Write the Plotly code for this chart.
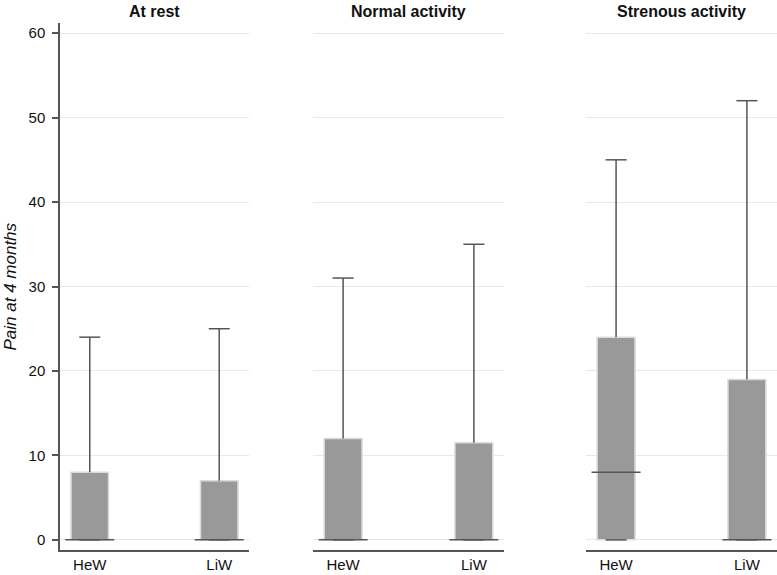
import plotly.graph_objects as go

panels = ["At rest", "Normal activity", "Strenous activity"]
groups = ["HeW", "LiW"]
q1 = [[0, 0], [0, 0], [0, 0]]
median = [[0, 0], [0, 0], [8, 0]]
q3 = [[8, 7], [12, 11.5], [24, 19]]
lower = [[0, 0], [0, 0], [0, 0]]
upper = [[24, 25], [31, 35], [45, 52]]
y_ticks = [0, 10, 20, 30, 40, 50, 60]

FILL = "#999999"
EDGE = "#dcdcdc"
DARK = "#555555"
GRID = "#e8e8e8"
TXT = "#111111"
FONT = "Liberation Sans, Arial, sans-serif"

domains = [[0, 0.2636], [0.3529, 0.6192], [0.7336, 1.0]]

fig = go.Figure()
for i, name in enumerate(panels):
    sfx = "" if i == 0 else str(i + 1)
    xa, ya = "x" + sfx, "y" + sfx
    # upper whisker line from q3 to upper (no caps)
    fig.add_trace(go.Scatter(
        x=groups, y=q3[i], mode="markers", marker=dict(size=0.1, color=DARK, opacity=0),
        error_y=dict(type="data", symmetric=False,
                     array=[u - q for u, q in zip(upper[i], q3[i])],
                     arrayminus=[0, 0], color=DARK, thickness=1.5, width=0),
        xaxis=xa, yaxis=ya, showlegend=False, hoverinfo="skip"))
    # lower whisker line from q1 to lower (no caps)
    fig.add_trace(go.Scatter(
        x=groups, y=q1[i], mode="markers", marker=dict(size=0.1, color=DARK, opacity=0),
        error_y=dict(type="data", symmetric=False, array=[0, 0],
                     arrayminus=[a - l for a, l in zip(q1[i], lower[i])],
                     color=DARK, thickness=1.5, width=0),
        xaxis=xa, yaxis=ya, showlegend=False, hoverinfo="skip"))
    # whisker caps
    fig.add_trace(go.Scatter(
        x=groups + groups, y=upper[i] + lower[i], mode="markers",
        marker=dict(symbol="line-ew", size=15, line=dict(color=DARK, width=1.5)),
        xaxis=xa, yaxis=ya, showlegend=False, hoverinfo="skip"))
    # box body
    fig.add_trace(go.Bar(
        x=groups, y=[b - a for a, b in zip(q1[i], q3[i])], base=q1[i], width=0.29,
        marker=dict(color=FILL, line=dict(color=EDGE, width=1.5)),
        xaxis=xa, yaxis=ya, showlegend=False, hoverinfo="skip"))
    # median
    fig.add_trace(go.Scatter(
        x=groups, y=median[i], mode="markers",
        marker=dict(symbol="line-ew", size=35, line=dict(color=DARK, width=1.5)),
        xaxis=xa, yaxis=ya, showlegend=False, hoverinfo="skip"))

layout = dict(
    width=777, height=575,
    margin=dict(l=60, r=0, t=23, b=25, autoexpand=False),
    paper_bgcolor="white", plot_bgcolor="white",
    font=dict(family=FONT, size=15, color=TXT),
    barmode="overlay",
    annotations=[],
)
for i, name in enumerate(panels):
    sfx = "" if i == 0 else str(i + 1)
    layout["xaxis" + sfx] = dict(
        domain=domains[i], anchor="y" + sfx, type="category",
        range=[-0.23, 1.23], showline=True, linecolor=DARK, linewidth=1.5,
        ticks="", showgrid=False, zeroline=False, automargin=False,
        tickfont=dict(size=15, color=TXT), fixedrange=True)
    layout["yaxis" + sfx] = dict(
        anchor="x" + sfx, range=[-1.2, 61.2], tickvals=y_ticks,
        showgrid=True, gridcolor=GRID, gridwidth=1, zeroline=False,
        showline=(i == 0), linecolor=DARK, linewidth=1.5, automargin=False,
        ticks="outside" if i == 0 else "", ticklen=6, tickcolor=DARK, tickwidth=1.5,
        ticklabelstandoff=4,
        showticklabels=(i == 0), tickfont=dict(size=15, color=TXT),
        fixedrange=True)
    layout["annotations"].append(dict(
        text="<b>" + name + "</b>", x=sum(domains[i]) / 2, xref="paper",
        xanchor="center", y=1, yref="paper", yanchor="bottom", yshift=1,
        showarrow=False, font=dict(size=16, color=TXT)))

layout["annotations"].append(dict(
    text="<i>Pain at 4 months</i>", x=-50 / 717, xref="paper", xanchor="center",
    y=0.5, yref="paper", yanchor="middle", textangle=-90, showarrow=False,
    font=dict(size=17, color=TXT)))

fig.update_layout(**layout)
fig.write_html("out.html", config={"displayModeBar": False},
               post_script="document.body.style.margin='0px';")
